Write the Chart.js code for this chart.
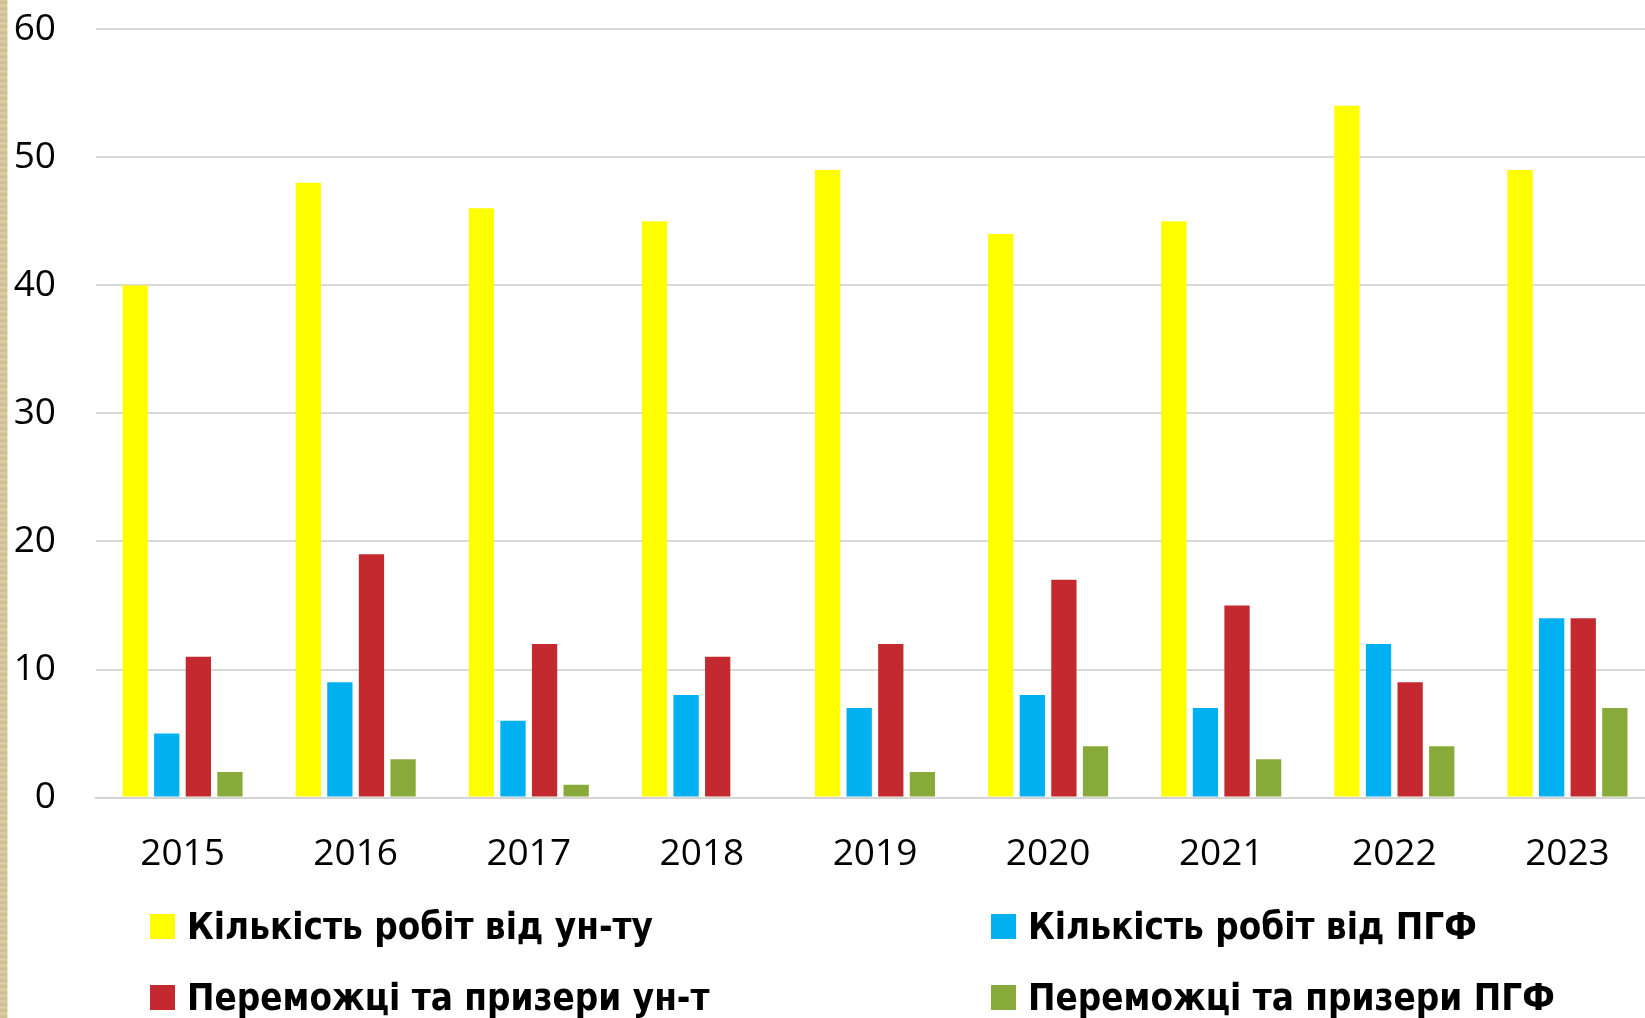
<!DOCTYPE html>
<html>
<head>
<meta charset="utf-8">
<script src="https://cdn.jsdelivr.net/npm/chart.js@4.4.1/dist/chart.umd.min.js"></script>
<style>
  html, body { margin: 0; padding: 0; background: #fff; width: 1645px; height: 1018px; overflow: hidden; }
  #strip { position: absolute; left: 0; top: 0; width: 7px; height: 1018px;
    background: repeating-linear-gradient(180deg, #d9c9a0 0px, #cdbb8e 3px, #e2d4b0 6px); border-right: 1px solid #ece3cc; }
  #wrap { position: absolute; left: 0; top: 0; width: 1660px; height: 920px; }
  #legend { position: absolute; left: 0; top: 0; width: 1645px; height: 1018px; pointer-events: none; }
  .item { position: absolute; display: flex; align-items: center; height: 40px; }
  .box { width: 25px; height: 25px; margin-right: 12px; }
  .txt { font-family: "Liberation Sans Narrow", "DejaVu Sans Condensed", Roboto, sans-serif; font-weight: bold; font-size: 36.5px; color: #000; white-space: nowrap; }
</style>
</head>
<body>
<div id="strip"></div>
<div id="wrap"><canvas id="chart" width="1660" height="920"></canvas></div>
<div id="legend"></div>
<script>
// ---------- data ----------
const years = ["2015", "2016", "2017", "2018", "2019", "2020", "2021", "2022", "2023"];
const worksUniv = [40, 48, 46, 45, 49, 44, 45, 54, 49];
const worksPgf = [5, 9, 6, 8, 7, 8, 7, 12, 14];
const winnersUniv = [11, 19, 12, 11, 12, 17, 15, 9, 14];
const winnersPgf = [2, 3, 1, 0, 2, 4, 3, 4, 7];
const seriesNames = [
  "Кількість робіт від ун-ту",
  "Кількість робіт від ПГФ",
  "Переможці та призери ун-т",
  "Переможці та призери ПГФ"
];
const seriesColors = ["#FFFF00", "#00B0F0", "#C3292E", "#88AA3A"];
const yMin = 0, yMax = 60, yStep = 10;

// ---------- chart ----------
const tickFont = { family: "'Open Sans', 'Liberation Sans', sans-serif", size: 37 };
const seriesData = [worksUniv, worksPgf, winnersUniv, winnersPgf];

const chart = new Chart(document.getElementById("chart").getContext("2d"), {
  type: "bar",
  data: {
    labels: years,
    datasets: seriesData.map((d, i) => ({
      label: seriesNames[i],
      data: d,
      backgroundColor: seriesColors[i],
      borderWidth: 0,
      categoryPercentage: 0.73,
      barPercentage: 0.8
    }))
  },
  options: {
    responsive: false,
    animation: false,
    devicePixelRatio: 1,
    layout: { padding: { top: 29, right: 6, bottom: 8, left: 0 } },
    plugins: { legend: { display: false }, tooltip: { enabled: false } },
    scales: {
      x: {
        grid: { display: false, drawTicks: false },
        border: { display: true, color: "#d4d4d4", width: 2 },
        ticks: { color: "#000", font: tickFont, padding: 35, maxRotation: 0 }
      },
      y: {
        min: yMin,
        max: yMax,
        afterFit: (scale) => {
          scale.width = 96;
          scale.paddingTop = 0;
          scale.paddingBottom = 0;
        },
        grid: { color: "#d9d9d9", lineWidth: 2, drawTicks: false },
        border: { display: false },
        ticks: { stepSize: yStep, color: "#000", font: tickFont, padding: 40 }
      }
    }
  }
});

// ---------- legend (2 columns) ----------
const legendPos = [
  { left: 150, top: 906 },
  { left: 991, top: 906 },
  { left: 150, top: 977 },
  { left: 991, top: 977 }
];
const legendEl = document.getElementById("legend");
chart.data.datasets.forEach((ds, i) => {
  const item = document.createElement("div");
  item.className = "item";
  item.style.left = legendPos[i].left + "px";
  item.style.top = legendPos[i].top + "px";
  item.innerHTML = `<div class="box" style="background:${ds.backgroundColor}"></div><span class="txt">${ds.label}</span>`;
  legendEl.appendChild(item);
});
</script>
</body>
</html>
